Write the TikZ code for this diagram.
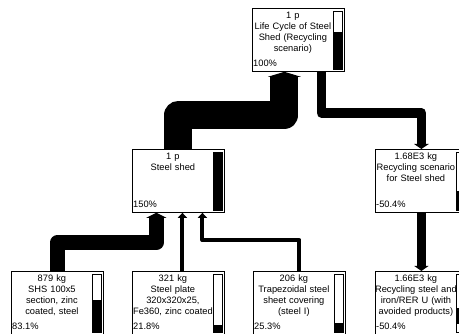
\documentclass[tikz,border=0pt]{standalone}
\usepackage{fontspec}
\setmainfont{Liberation Sans}
\usetikzlibrary{arrows.meta}

\tikzset{
  proc/.style={draw, line width=0.8pt, fill=white, minimum width=92pt, minimum height=63pt, inner sep=0pt, anchor=north west},
  title/.style={anchor=north, inner sep=0pt, text width=90pt, align=center, font=\fontsize{9.3}{11}\selectfont},
  pct/.style={anchor=base west, inner sep=0pt, font=\fontsize{9.3}{11}\selectfont},
  gauge/.style={draw, line width=0.8pt},
  flow/.style={line width=#1, line join=round, -{Triangle[length=5pt,width=5pt 1]}}
}

\begin{document}
\begin{tikzpicture}[x=1pt,y=-1pt]
\clip (0,0) rectangle (459,334);
% Etage 1
\node[proc] (cycle) at (252,8) {};
\node[title] (cycletxt) at ([xshift=-5.5pt,yshift=-4pt]cycle.north) {1 p\\Life Cycle of Steel\\Shed (Recycling\\scenario)};
\node[pct] (cyclepct) at ([xshift=1pt,yshift=5pt]cycle.south west) {100\%};
\draw[gauge] ([xshift=-11pt,yshift=-3pt]cycle.north east) rectangle ([xshift=-2pt,yshift=2pt]cycle.south east);
\fill ([xshift=-11pt,yshift=2pt]cycle.south east) rectangle ([xshift=-2pt,yshift=40pt]cycle.south east);
% Etage 2
\node[proc] (shed) at (132,149) {};
\node[title] (shedtxt) at ([xshift=-5.5pt,yshift=-4pt]shed.north) {1 p\\Steel shed};
\node[pct] (shedpct) at ([xshift=1pt,yshift=5pt]shed.south west) {150\%};
\draw[gauge] ([xshift=-11pt,yshift=-3pt]shed.north east) rectangle ([xshift=-2pt,yshift=2pt]shed.south east);
\fill ([xshift=-11pt,yshift=2pt]shed.south east) rectangle ([xshift=-2pt,yshift=-3pt]shed.north east);
\node[proc] (scen) at (375,149) {};
\node[title] (scentxt) at ([xshift=-5.5pt,yshift=-4pt]scen.north) {1.68E3 kg\\Recycling scenario\\for Steel shed};
\node[pct] (scenpct) at ([xshift=1pt,yshift=5pt]scen.south west) {-50.4\%};
\draw[gauge] ([xshift=-11pt,yshift=-3pt]scen.north east) rectangle ([xshift=-2pt,yshift=2pt]scen.south east);
\fill ([xshift=-11pt,yshift=2pt]scen.south east) rectangle ([xshift=-2pt,yshift=22pt]scen.south east);
% Etage 3
\node[proc] (shs) at (11,271) {};
\node[title] (shstxt) at ([xshift=-5.5pt,yshift=-4pt]shs.north) {879 kg\\SHS 100x5\\section, zinc\\coated, steel};
\node[pct] (shspct) at ([xshift=1pt,yshift=5pt]shs.south west) {83.1\%};
\draw[gauge] ([xshift=-11pt,yshift=-3pt]shs.north east) rectangle ([xshift=-2pt,yshift=2pt]shs.south east);
\fill ([xshift=-11pt,yshift=2pt]shs.south east) rectangle ([xshift=-2pt,yshift=35pt]shs.south east);
\node[proc] (plate) at (132,271) {};
\node[title] (platetxt) at ([xshift=-5.5pt,yshift=-4pt]plate.north) {321 kg\\Steel plate\\320x320x25,\\Fe360, zinc coated};
\node[pct] (platepct) at ([xshift=1pt,yshift=5pt]plate.south west) {21.8\%};
\draw[gauge] ([xshift=-11pt,yshift=-3pt]plate.north east) rectangle ([xshift=-2pt,yshift=2pt]plate.south east);
\fill ([xshift=-11pt,yshift=2pt]plate.south east) rectangle ([xshift=-2pt,yshift=10pt]plate.south east);
\node[proc] (trap) at (253,271) {};
\node[title] (traptxt) at ([xshift=-5.5pt,yshift=-4pt]trap.north) {206 kg\\Trapezoidal steel\\sheet covering\\(steel I)};
\node[pct] (trappct) at ([xshift=1pt,yshift=5pt]trap.south west) {25.3\%};
\draw[gauge] ([xshift=-11pt,yshift=-3pt]trap.north east) rectangle ([xshift=-2pt,yshift=2pt]trap.south east);
\fill ([xshift=-11pt,yshift=2pt]trap.south east) rectangle ([xshift=-2pt,yshift=12pt]trap.south east);
\node[proc] (recyc) at (375,271) {};
\node[title] (recyctxt) at ([xshift=-5.5pt,yshift=-4pt]recyc.north) {1.66E3 kg\\Recycling steel and\\iron/RER U (with\\avoided products)};
\node[pct] (recycpct) at ([xshift=1pt,yshift=5pt]recyc.south west) {-50.4\%};
\draw[gauge] ([xshift=-11pt,yshift=-3pt]recyc.north east) rectangle ([xshift=-2pt,yshift=2pt]recyc.south east);
\fill ([xshift=-11pt,yshift=11pt]recyc.south east) rectangle ([xshift=-2pt,yshift=27pt]recyc.south east);
% Fluxes
\draw[flow=28pt] (shed.north) -- ++(0,-34) -| ([xshift=-14pt]cycle.south);
\draw[flow=9.5pt] ([xshift=23pt]cycle.south) -- ++(0,41) -| (scen.north);
\draw[flow=9pt] (scen.south) -- (recyc.north);
\draw[flow=15pt] (shs.north) -- ++(0,-28.5) -| ([xshift=-22pt]shed.south);
\draw[flow=4pt] ([xshift=4pt]plate.north) -- ([xshift=4pt]shed.south);
\draw[flow=4pt] (trap.north) -- ++(0,-31) -| ([xshift=24pt]shed.south);
\end{tikzpicture}
\end{document}
